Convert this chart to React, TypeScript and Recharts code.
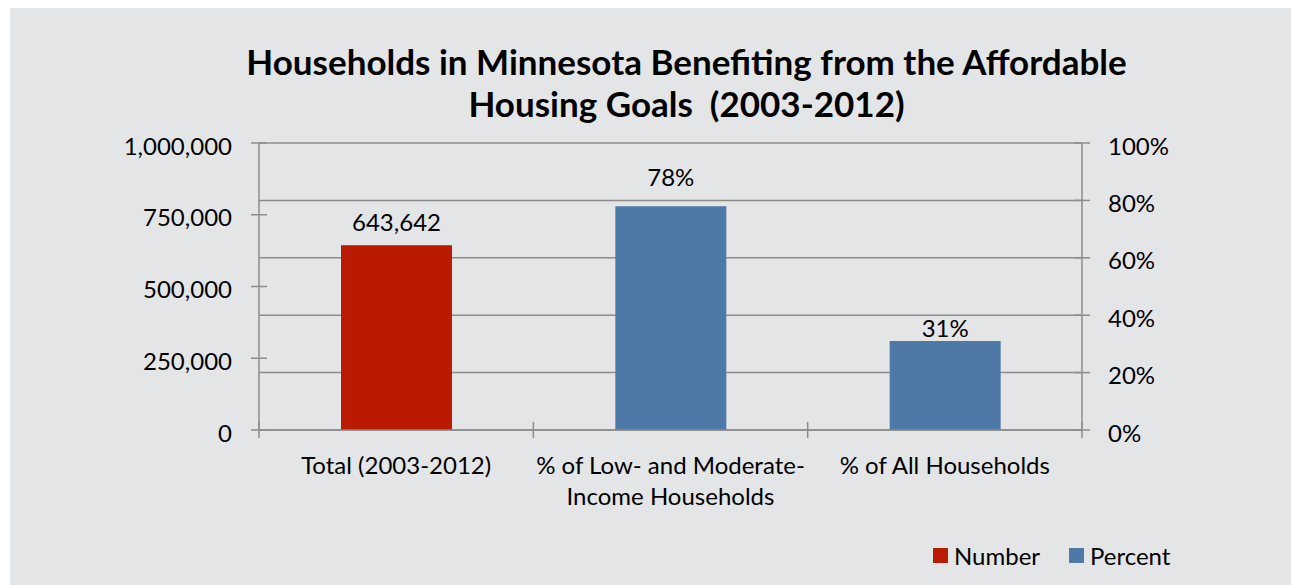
import { BarChart, Bar, XAxis, YAxis, CartesianGrid, Legend } from "recharts";

const categories = [
  "Total (2003-2012)",
  "% of Low- and Moderate-Income Households",
  "% of All Households",
];
const categoryLines = [
  ["Total (2003-2012)"],
  ["% of Low- and Moderate-", "Income Households"],
  ["% of All Households"],
];
const numberValues = [643642, null, null];
const percentValues = [null, 78, 31];
const numberTicks = [0, 250000, 500000, 750000, 1000000];
const percentTicks = [0, 20, 40, 60, 80, 100];
const seriesNames = ["Number", "Percent"];

const data = categories.map((name, i) => ({
  name,
  number: numberValues[i],
  percent: percentValues[i],
}));

const FONT = "Lato, 'Open Sans', sans-serif";
const FS = 24;
const AXIS = "#8c8c8c";
const RED = "#b91a00";
const BLUE = "#4e79a7";
const BG = "#e4e5e7";

const W = 1281;
const H = 577;
const margin = { top: 135, right: 109, bottom: 55, left: 149 };
const yAxisW = 100;
const xAxisH = 70;
const plotLeft = margin.left + yAxisW;
const bandW = (W - margin.left - margin.right - 2 * yAxisW) / categories.length;

// gap between label baseline and bar top, per category, as placed in the original
const labelGaps = [14, 20, 4];

const fmtNumber = (v: number) => v.toLocaleString("en-US");

function LeftTick({ x, y, payload }: any) {
  const ax = x + 27;
  return (
    <g>
      <line x1={ax - 8} x2={ax + 8} y1={y} y2={y} stroke={AXIS} strokeWidth={1.5} />
      <text x={x} y={y} dy={11.5} textAnchor="end" fontFamily={FONT} fontSize={FS} fill="#000">
        {fmtNumber(payload.value)}
      </text>
    </g>
  );
}

function RightTick({ x, y, payload }: any) {
  const ax = x - 26;
  return (
    <g>
      <line x1={ax - 8} x2={ax + 8} y1={y} y2={y} stroke={AXIS} strokeWidth={1.5} />
      <text x={x} y={y} dy={11.5} textAnchor="start" fontFamily={FONT} fontSize={FS} fill="#000">
        {payload.value}%
      </text>
    </g>
  );
}

function BottomTick({ x, y, index }: any) {
  const lines = categoryLines[index] || [];
  const left = x - bandW / 2;
  const right = x + bandW / 2;
  return (
    <g>
      <line x1={left} x2={left} y1={y - 8} y2={y + 8} stroke={AXIS} strokeWidth={1.5} />
      {index === categories.length - 1 && (
        <line x1={right} x2={right} y1={y - 8} y2={y + 8} stroke={AXIS} strokeWidth={1.5} />
      )}
      <text textAnchor="middle" fontFamily={FONT} fontSize={FS} fill="#000">
        {lines.map((l, i) => (
          <tspan key={i} x={x} y={y + 44 + i * 31}>
            {l}
          </tspan>
        ))}
      </text>
    </g>
  );
}

function makeLabel(fmt: (v: number) => string) {
  return (props: any) => {
    const { x, y, width, value } = props;
    if (value === null || value === undefined) return null;
    const cx = x + width / 2;
    const cat = Math.max(0, Math.min(categories.length - 1, Math.floor((cx - plotLeft) / bandW)));
    return (
      <text
        x={cx}
        y={y - labelGaps[cat]}
        textAnchor="middle"
        fontFamily={FONT}
        fontSize={FS}
        fill="#000"
      >
        {fmt(value)}
      </text>
    );
  };
}

function LegendContent() {
  const colors = [RED, BLUE];
  return (
    <div style={{ display: "flex", alignItems: "center", height: 30, fontFamily: FONT, fontSize: FS, color: "#000" }}>
      {seriesNames.map((n, i) => (
        <div key={n} style={{ display: "flex", alignItems: "center", width: i === 0 ? 136 : "auto" }}>
          <span style={{ display: "inline-block", width: 15, height: 15, background: colors[i], marginRight: 6 }} />
          <span>{n}</span>
        </div>
      ))}
    </div>
  );
}

export default function App() {
  return (
    <div style={{ position: "absolute", left: 10, top: 8, width: W, height: H, background: BG }}>
      <div
        style={{
          position: "absolute",
          left: 186,
          width: 981,
          top: 31.5,
          textAlign: "center",
          fontFamily: FONT,
          fontWeight: 700,
          fontSize: 35,
          lineHeight: "42px",
          color: "#000",
        }}
      >
        Households in Minnesota Benefiting from the Affordable
        <br />
        Housing Goals&nbsp; (2003-2012)
      </div>
      <BarChart width={W} height={H} data={data} margin={margin} barSize={111}>
        <CartesianGrid yAxisId="right" vertical={false} stroke={AXIS} strokeWidth={1.5} />
        <XAxis
          dataKey="name"
          xAxisId="main"
          height={xAxisH}
          interval={0}
          tickSize={0}
          tickMargin={0}
          tickLine={false}
          axisLine={{ stroke: AXIS, strokeWidth: 1.5 }}
          tick={<BottomTick />}
        />
        <XAxis dataKey="name" xAxisId="pct" hide />
        <YAxis
          yAxisId="left"
          width={yAxisW}
          domain={[0, 1000000]}
          ticks={numberTicks}
          tickSize={0}
          tickMargin={27}
          tickLine={false}
          axisLine={{ stroke: AXIS, strokeWidth: 1.5 }}
          tick={<LeftTick />}
        />
        <YAxis
          yAxisId="right"
          orientation="right"
          width={yAxisW}
          domain={[0, 100]}
          ticks={percentTicks}
          tickSize={0}
          tickMargin={26}
          tickLine={false}
          axisLine={{ stroke: AXIS, strokeWidth: 1.5 }}
          tick={<RightTick />}
        />
        <Legend
          content={<LegendContent />}
          wrapperStyle={{ left: 923, top: 532, bottom: "auto", width: "auto" }}
        />
        <Bar
          dataKey="number"
          name={seriesNames[0]}
          xAxisId="main"
          yAxisId="left"
          fill={RED}
          isAnimationActive={false}
          label={makeLabel(fmtNumber)}
        />
        <Bar
          dataKey="percent"
          name={seriesNames[1]}
          xAxisId="pct"
          yAxisId="right"
          fill={BLUE}
          isAnimationActive={false}
          label={makeLabel((v) => `${v}%`)}
        />
      </BarChart>
    </div>
  );
}
